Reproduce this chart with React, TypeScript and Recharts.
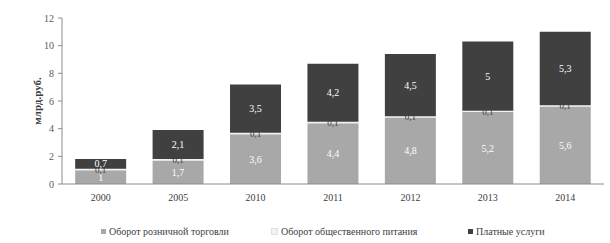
import React from 'react';
import { BarChart, Bar, XAxis, YAxis, Legend, LabelList } from 'recharts';

const years = ['2000', '2005', '2010', '2011', '2012', '2013', '2014'];
const retail = [1.0, 1.7, 3.6, 4.4, 4.8, 5.2, 5.6];
const catering = [0.1, 0.1, 0.1, 0.1, 0.1, 0.1, 0.1];
const paid = [0.7, 2.1, 3.5, 4.2, 4.5, 5.0, 5.3];
const yTicks = [0, 2, 4, 6, 8, 10, 12];

const names = {
  retail: 'Оборот розничной торговли',
  catering: 'Оборот общественного питания',
  paid: 'Платные услуги',
};
const colors = { retail: '#a8a8a8', catering: '#f2f2f2', paid: '#404040' };

const data = years.map((y, i) => ({ year: y, retail: retail[i], catering: catering[i], paid: paid[i] }));

const fmt = (v: any) => String(v).replace('.', ',');
const FONT = '"Liberation Serif", "DejaVu Serif", serif';

const LegendContent = () => {
  const items = [
    { key: 'retail', w: 170 },
    { key: 'catering', w: 197 },
    { key: 'paid', w: 80 },
  ];
  return (
    <div style={{ display: 'flex', justifyContent: 'flex-start', height: 14, alignItems: 'center', fontFamily: FONT, fontSize: 10, color: '#404040', paddingLeft: 79 }}>
      {items.map((it) => (
        <div key={it.key} style={{ display: 'flex', alignItems: 'center', width: it.w }}>
          <span style={{ display: 'inline-block', width: 5, height: 5, background: (colors as any)[it.key], border: it.key === 'catering' ? '1px solid #e0e0e0' : 'none', marginRight: 3 }} />
          <span>{(names as any)[it.key]}</span>
        </div>
      ))}
    </div>
  );
};

const YLabel = (props: any) => {
  const vb = props.viewBox || {};
  const cx = 37;
  const cy = vb.y + vb.height / 2;
  return (
    <text x={cx} y={cy} transform={`rotate(-90 ${cx} ${cy})`} textAnchor="middle" dominantBaseline="central" fontFamily={FONT} fontSize={11} fontWeight="bold" fill="#404040">
      млрд.руб.
    </text>
  );
};

export default function App() {
  return (
    <div style={{ position: 'absolute', left: 0, top: 0, background: '#fff' }}>
      <BarChart width={610} height={243} data={data} margin={{ top: 18, right: 6, left: 22, bottom: 5 }} barCategoryGap="17%">
        <XAxis dataKey="year" height={40} tickLine={false} tickSize={6} tickMargin={4} axisLine={{ stroke: '#8c8c8c' }} tick={{ fontFamily: FONT, fontSize: 10, fill: '#404040' }} />
        <YAxis width={40} domain={[0, 12]} ticks={yTicks} tickSize={4} tickMargin={4} axisLine={{ stroke: '#8c8c8c' }} tickLine={{ stroke: '#8c8c8c' }} tick={{ fontFamily: FONT, fontSize: 10, fill: '#595959' }} label={<YLabel />} />
        <Legend verticalAlign="bottom" content={<LegendContent />} />
        <Bar dataKey="retail" stackId="a" fill={colors.retail} isAnimationActive={false}>
          <LabelList dataKey="retail" position="center" formatter={fmt} style={{ fontFamily: FONT, fontSize: 10, fill: '#ffffff' }} />
        </Bar>
        <Bar dataKey="catering" stackId="a" fill={colors.catering} isAnimationActive={false}>
          <LabelList dataKey="catering" position="center" formatter={fmt} style={{ fontFamily: FONT, fontSize: 9, fill: '#404040' }} />
        </Bar>
        <Bar dataKey="paid" stackId="a" fill={colors.paid} isAnimationActive={false}>
          <LabelList dataKey="paid" position="center" formatter={fmt} style={{ fontFamily: FONT, fontSize: 10, fill: '#ffffff' }} />
        </Bar>
      </BarChart>
    </div>
  );
}
